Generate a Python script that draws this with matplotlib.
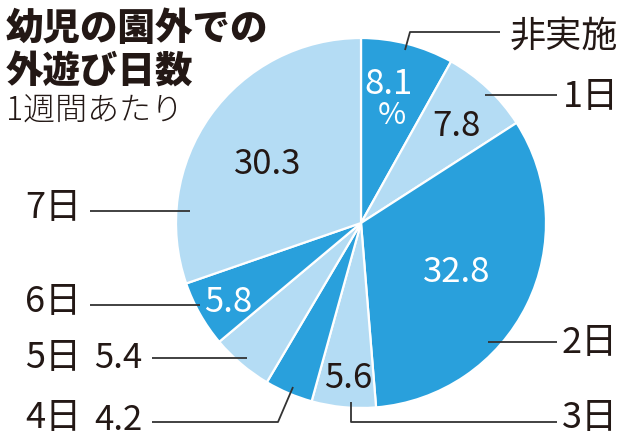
import matplotlib
matplotlib.use('Agg')
from matplotlib import pyplot as plt
from matplotlib import font_manager

# 幼児の園外での外遊び日数 (1週間あたり, %)
categories = ['非実施', '1日', '2日', '3日', '4日', '5日', '6日', '7日']
values = [8.1, 7.8, 32.8, 5.6, 4.2, 5.4, 5.8, 30.3]
value_texts = ['8.1', '7.8', '32.8', '5.6', '4.2', '5.4', '5.8', '30.3']

DARK = '#29a0dc'
LIGHT = '#b4dcf4'
INK = '#231815'
slice_colors = [DARK, LIGHT, DARK, LIGHT, DARK, LIGHT, DARK, LIGHT]
number_colors = ['white', INK, 'white', INK, INK, INK, 'white', INK]

# layout in pixel coordinates (y down)
number_pos = [(388, 84), (456, 126), (457, 273), (348, 379),
              (118, 420), (118, 358), (228, 302), (268, 164)]
label_pos = [(510, 37), (563, 97), (562, 343), (562, 418),
             (25, 418), (25, 358), (25, 302), (25, 208)]
leaders = [
    [(405, 50), (410, 32), (500, 32)],
    [(485, 95), (557, 95)],
    [(488, 342), (557, 342)],
    [(351, 402), (351, 422), (557, 422)],
    [(293, 387), (278, 422), (152, 422)],
    [(247, 358), (152, 358)],
    [(200, 305), (90, 305)],
    [(190, 211), (90, 211)],
]

def pick(names):
    for n in names:
        try:
            font_manager.findfont(n, fallback_to_default=False)
            return n
        except Exception:
            pass
    return 'DejaVu Sans'

jp = 'Noto Sans CJK JP'
num_font = pick(['Liberation Sans Narrow', 'Noto Sans CJK JP'])
num_size = 27 if num_font == 'Liberation Sans Narrow' else 25

fig = plt.figure(figsize=(6.4, 4.4), dpi=100)
ax = fig.add_axes([0, 0, 1, 1])

# y axis is flipped, so counterclock=True draws clockwise on screen
ax.pie(values, colors=slice_colors, startangle=-90, counterclock=True,
       center=(361, 223), radius=185,
       wedgeprops=dict(edgecolor='white', linewidth=1.6))
ax.set_xlim(0, 640)
ax.set_ylim(440, 0)
ax.set_aspect('auto')
ax.axis('off')

for pts in leaders:
    xs = [p[0] for p in pts]
    ys = [p[1] for p in pts]
    ax.plot(xs, ys, color='#333333', lw=1.3, solid_capstyle='butt')

for txt, (x, y), c in zip(value_texts, number_pos, number_colors):
    ax.text(x, y, txt, color=c, fontsize=num_size, family=[num_font, 'DejaVu Sans'],
            ha='center', va='center')
ax.text(392, 116, '%', color='white', fontsize=num_size - 3,
        family=[num_font, 'DejaVu Sans'], ha='center', va='center')

for cat, (x, y) in zip(categories, label_pos):
    ax.text(x, y, cat, color=INK, fontsize=26, family=[jp, 'DejaVu Sans'],
            ha='left', va='center')

ax.text(6, 29, '幼児の園外での', color=INK, fontsize=27, fontweight='heavy',
        family=[jp, 'DejaVu Sans'], ha='left', va='center')
ax.text(6, 73, '外遊び日数', color=INK, fontsize=27, fontweight='heavy',
        family=[jp, 'DejaVu Sans'], ha='left', va='center')
ax.text(6, 111, '1週間あたり', color=INK, fontsize=23, fontweight='light',
        family=[jp, 'DejaVu Sans'], ha='left', va='center')

fig.savefig('out.png', dpi=100)
